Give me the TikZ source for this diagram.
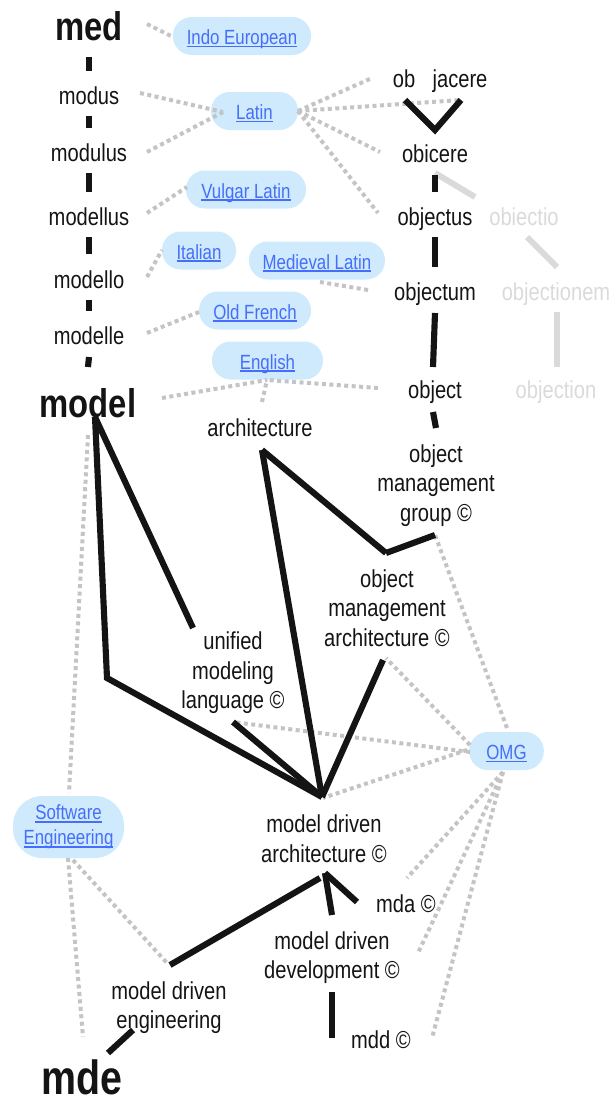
\documentclass[tikz,border=0pt]{standalone}
\usepackage{fontspec}
\setmainfont{Liberation Sans}[FakeStretch=0.82]
\usetikzlibrary{calc}
\definecolor{pillblue}{RGB}{206,234,252}
\definecolor{linkblue}{RGB}{70,110,250}
\definecolor{dotgray}{RGB}{196,196,196}
\definecolor{ghost}{RGB}{218,218,218}
\definecolor{ink}{RGB}{20,20,20}
\newcommand{\ulink}[1]{\setbox0\hbox{#1}\rlap{\rule[-2.2pt]{\wd0}{1.4pt}}\box0}
\tikzset{
 word/.style={font=\fontsize{18.4pt}{22.1pt}\selectfont, text=ink, inner sep=0pt, anchor=base},
 big/.style={font=\bfseries\fontsize{30pt}{36pt}\selectfont, text=ink, inner sep=0pt, anchor=base},
 bigger/.style={big, font=\bfseries\fontsize{36pt}{42pt}\selectfont},
 ghostword/.style={word, text=ghost},
 multi/.style={font=\fontsize{18.4pt}{22.1pt}\selectfont, text=ink, inner sep=0pt, align=center, anchor=center},
 pillbase/.style={fill=pillblue, inner sep=0pt, text=linkblue, font=\fontsize{15.4pt}{18.5pt}\selectfont},
 pill/.style={pillbase, rounded corners=14pt, minimum height=28.5pt, text height=16pt, text depth=3.2pt},
 bk/.style={line width=4.6pt, draw=ink},
 ghostline/.style={line width=4.5pt, draw=ghost},
 dots/.style={line width=3pt, draw=dotgray, dash pattern=on 3pt off 2.6pt},
}
\begin{document}
\begin{tikzpicture}[x=0.75pt, y=-0.75pt]
\useasboundingbox (0,0) rectangle (613,1103);
% pills
\node[pill, minimum width=103.5pt] (ie) at (242,36) {\ulink{Indo European}};
\node[pill, minimum width=65.25pt] (latin) at (254.5,111) {\ulink{Latin}};
\node[pill, minimum width=90pt] (vulgar) at (246,189.5) {\ulink{Vulgar Latin}};
\node[pill, minimum width=55.5pt] (italian) at (199,250.5) {\ulink{Italian}};
\node[pill, minimum width=102pt] (medieval) at (317,260.5) {\ulink{Medieval Latin}};
\node[pill, minimum width=84pt] (oldfrench) at (255,310.5) {\ulink{Old French}};
\node[pill, minimum width=83.25pt] (english) at (267.5,360.5) {\ulink{English}};
\node[pill, minimum width=56pt] (omgp) at (506.5,751) {\ulink{OMG}};
\node[pillbase, rounded corners=22pt, minimum width=83.25pt, minimum height=46.5pt, align=center] (se) at (68.5,827) {\ulink{Software}\\\ulink{Engineering}};
% words
\node[big] (med) at (89,40) {med};
\node[word] (modus) at (89,104) {modus};
\node[word] (modulus) at (89,161) {modulus};
\node[word] (modellus) at (89,225) {modellus};
\node[word] (modello) at (89,288) {modello};
\node[word] (modelle) at (89,344) {modelle};
\node[big] (model) at (88,417) {model};
\node[word] (ob) at (404,87) {ob};
\node[word] (jacere) at (460,87) {jacere};
\node[word] (obicere) at (435,162) {obicere};
\node[word] (objectus) at (435,225) {objectus};
\node[ghostword] (obiectio) at (524,225) {obiectio};
\node[word] (objectum) at (435,300) {objectum};
\node[ghostword] (objectionem) at (556,300) {objectionem};
\node[word] (object) at (435,398) {object};
\node[ghostword] (objection) at (556,398) {objection};
\node[word] (arch) at (260,436) {architecture};
\node[multi] (omg) at (436,485.5) {object\\management\\group ©};
\node[multi] (oma) at (387,608) {object\\management\\architecture ©};
\node[multi] (uml) at (233,673) {unified\\modeling\\language ©};
\node[multi] (mdaf) at (324,838.5) {model driven\\architecture ©};
\node[word] (mdasm) at (406,912) {mda ©};
\node[multi] (mddf) at (332,957.4) {model driven\\development ©};
\node[word] (mddsm) at (381,1048) {mdd ©};
\node[multi] (mdef) at (169,1007.4) {model driven\\engineering};
\node[bigger] (mde) at (82,1094) {mde};
% dotted relations
\draw[dots] ($(med.base)+(58,-16)$) -- ($(ie.center)+(-69,1)$);
\draw[dots] ($(modus.base)+(51,-11)$) -- ($(latin.center)+(-31.5,1)$);
\draw[dots] ($(modulus.base)+(58,-9)$) -- ($(latin.center)+(-31.5,1)$);
\draw[dots] ($(modellus.base)+(58,-12)$) -- ($(vulgar.center)+(-59,-2.5)$);
\draw[dots] ($(modello.base)+(58,-11)$) -- ($(italian.center)+(-37,-0.5)$);
\draw[dots] ($(modelle.base)+(58,-11)$) -- ($(oldfrench.center)+(-56,1.5)$);
\draw[dots] ($(model.base)+(74,-19)$) -- ($(english.center)+(-0.5,19.5)$);
\draw[dots] ($(arch.base)+(2,-34)$) -- ($(english.center)+(-0.5,19.5)$);
\draw[dots] ($(object.base)+(-57,-10)$) -- ($(english.center)+(-0.5,19.5)$);
\draw[dots] ($(objectum.base)+(-67,-10)$) -- ($(medieval.center)+(3,21.5)$);
\draw[dots] ($(latin.center)+(43.5,0)$) -- ($(ob.base)+(-32,-9)$);
\draw[dots] ($(latin.center)+(43.5,0)$) -- ($(jacere.base)+(1,13)$);
\draw[dots] ($(latin.center)+(43.5,0)$) -- ($(obicere.base)+(-55,-10)$);
\draw[dots] ($(latin.center)+(43.5,0)$) -- ($(objectus.base)+(-57,-12)$);
\draw[dots] ($(model.base)+(0,18)$) -- ($(se.center)+(0.5,-34)$);
\draw[dots] ($(se.center)+(-0.5,31)$) -- ($(mde.base)+(1,-57)$);
\draw[dots] ($(se.center)+(4.5,33)$) -- ($(mdef.center)+(-2,-44.4)$);
\draw[dots] ($(omgp.center)+(0.5,-23)$) -- ($(omg.center)+(-1,49.5)$);
\draw[dots] ($(omgp.center)+(-36.5,-6)$) -- ($(oma.center)+(-1,50)$);
\draw[dots] ($(omgp.center)+(-36.5,1)$) -- ($(uml.center)+(0,49)$);
\draw[dots] ($(omgp.center)+(-39.5,-1)$) -- ($(mdaf.center)+(-1,-40.5)$);
\draw[dots] ($(omgp.center)+(-3.5,21)$) -- ($(mdasm.base)+(1,-34)$);
\draw[dots] ($(omgp.center)+(-3.5,21)$) -- ($(mddf.center)+(86,-4.4)$);
\draw[dots] ($(omgp.center)+(-3.5,21)$) -- ($(mddsm.base)+(51,-10)$);
% faded lineage
\draw[ghostline] ($(obicere.base)+(0,11)$) -- ($(obiectio.base)+(-49,-28)$);
\draw[ghostline] ($(obiectio.base)+(3,12)$) -- ($(objectionem.base)+(1,-33)$);
\draw[ghostline] ($(objectionem.base)+(1,12)$) -- ($(objection.base)+(1,-31)$);
% black lineage
\draw[bk] ($(med.base)+(0,17)$) -- ($(modus.base)+(0,-33)$);
\draw[bk] ($(modus.base)+(0,12)$) -- ($(modulus.base)+(0,-33)$);
\draw[bk] ($(modulus.base)+(0,12)$) -- ($(modellus.base)+(0,-33)$);
\draw[bk] ($(modellus.base)+(0,12)$) -- ($(modello.base)+(0,-34)$);
\draw[bk] ($(modello.base)+(0,12)$) -- ($(modelle.base)+(0,-33)$);
\draw[bk] ($(modelle.base)+(0,13)$) -- ($(model.base)+(0,-50)$);
\draw[bk] ($(ob.base)+(1,13)$) -- ($(obicere.base)+(0,-32)$) -- ($(jacere.base)+(1,13)$);
\draw[bk] ($(obicere.base)+(0,13)$) -- ($(objectus.base)+(0,-33)$);
\draw[bk] ($(objectus.base)+(0,12)$) -- ($(objectum.base)+(0,-33)$);
\draw[bk] ($(objectum.base)+(0,13)$) -- ($(object.base)+(-2,-31)$);
\draw[bk] ($(object.base)+(-2,14)$) -- ($(omg.center)+(0,-57.5)$);
\draw[bk] ($(arch.base)+(2,14)$) -- ($(oma.center)+(-1,-55)$);
\draw[bk] ($(omg.center)+(-1,49.5)$) -- ($(oma.center)+(-1,-55)$);
\draw[bk] ($(model.base)+(7,0)$) -- ($(uml.center)+(-40,-45)$);
\draw[bk] ($(model.base)+(7,0)$) -- ($(model.base)+(19,261)$) -- ($(mdaf.center)+(-2,-41.5)$);
\draw[bk] ($(arch.base)+(2,14)$) -- ($(mdaf.center)+(-2,-41.5)$);
\draw[bk] ($(uml.center)+(0,49)$) -- ($(mdaf.center)+(-2,-41.5)$);
\draw[bk] ($(oma.center)+(-4,52)$) -- ($(mdaf.center)+(-2,-41.5)$);
\draw[bk] ($(mdasm.base)+(-49,-10)$) -- ($(mdaf.center)+(1,34.5)$);
\draw[bk] ($(mddf.center)+(0,-42.4)$) -- ($(mdaf.center)+(1,34.5)$);
\draw[bk] ($(mdef.center)+(1,-42.4)$) -- ($(mdaf.center)+(-4,39.5)$);
\draw[bk] ($(mddf.center)+(0,34.6)$) -- ($(mddsm.base)+(-49,-10)$);
\draw[bk] ($(mdef.center)+(-36,22.6)$) -- ($(mde.base)+(26,-41)$);
\end{tikzpicture}
\end{document}
